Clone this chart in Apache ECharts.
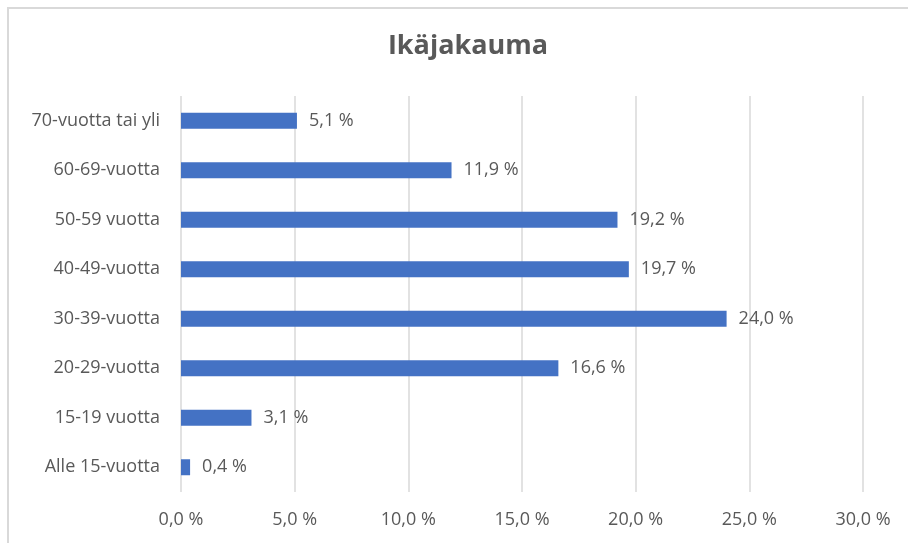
<!DOCTYPE html>
<html><head><meta charset="utf-8">
<script src="https://cdn.jsdelivr.net/npm/echarts@6/dist/echarts.min.js"></script>
<style>html,body{margin:0;padding:0;background:#fff;}#c{width:908px;height:543px;}</style>
</head><body><div id="c"></div>
<script>
var categories = ['Alle 15-vuotta','15-19 vuotta','20-29-vuotta','30-39-vuotta','40-49-vuotta','50-59 vuotta','60-69-vuotta','70-vuotta tai yli'];
var values = [0.4, 3.1, 16.6, 24.0, 19.7, 19.2, 11.9, 5.1];
var titleText = 'Ikäjakauma';
function fmt(v){ return v.toFixed(1).replace('.', ',') + ' %'; }
var chart = echarts.init(document.getElementById('c'), null, {renderer:'canvas'});
chart.setOption({
  backgroundColor:'#fff',
  animation:false,
  graphic:[{type:'rect', shape:{x:8, y:8, width:1000, height:1000}, style:{fill:'none', stroke:'#d9d9d9', lineWidth:2}, z:-1}],
  title:{text:titleText, left:463, top:28, textAlign:'center', textStyle:{fontFamily:'Open Sans', fontSize:27, fontWeight:'bold', color:'#595959'}},
  grid:{left:181, right:45, top:96, bottom:51, containLabel:false},
  xAxis:{type:'value', min:0, max:30, interval:5,
    axisLine:{show:false}, axisTick:{show:false},
    splitLine:{lineStyle:{color:'#d9d9d9', width:1.5}},
    axisLabel:{formatter:function(v){return fmt(v);}, color:'#595959', fontFamily:'Open Sans', fontSize:18, margin:19}},
  yAxis:{type:'category', data:categories,
    axisLine:{show:false}, axisTick:{show:false},
    axisLabel:{color:'#595959', fontFamily:'Open Sans', fontSize:18, margin:21}},
  series:[{type:'bar', data:values, barWidth:16, itemStyle:{color:'#4472C4'},
    label:{show:true, position:'right', distance:12, formatter:function(p){return fmt(p.value);}, color:'#595959', fontFamily:'Open Sans', fontSize:18}}]
});
</script></body></html>
